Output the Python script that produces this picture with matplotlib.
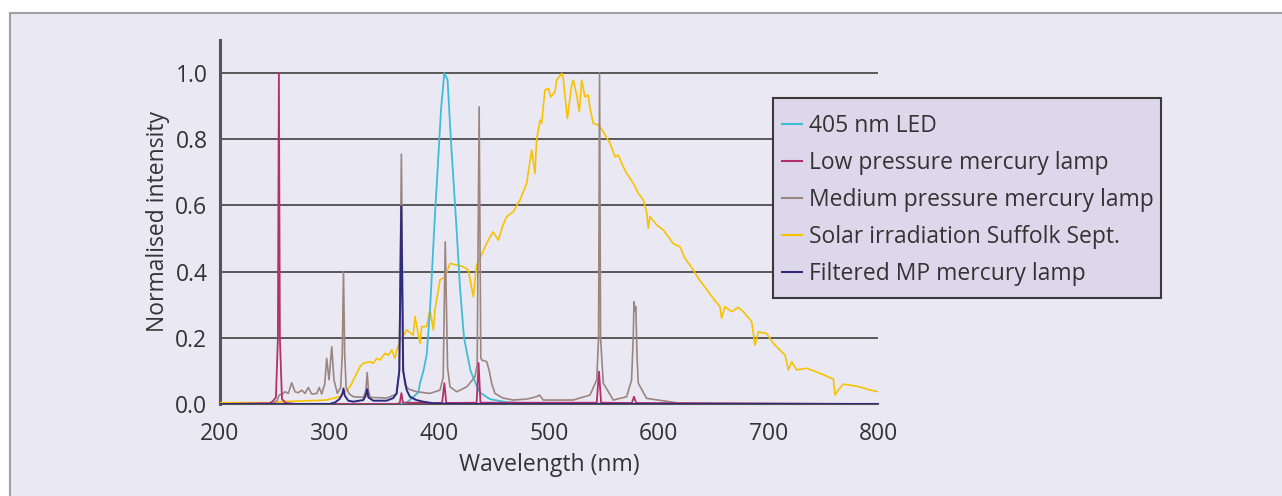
import matplotlib
matplotlib.use("Agg")
import matplotlib.pyplot as plt
from matplotlib.patches import Rectangle

plt.rcParams['font.family'] = ['Open Sans', 'DejaVu Sans']

# spectra (wavelength nm, normalised intensity)
solar_wl = [200, 252, 255, 282, 297, 309, 318.5, 327.7, 330.7, 336.8, 339.8, 342.9, 345.9,
            350.5, 353.5, 356.6, 359.6, 361.1, 364.1, 370.2, 376.2, 377.8, 382.4, 383.9,
            388.4, 391.5, 394.5, 396, 400.6, 405.2, 409.7, 415.8, 421.8, 426.4, 431, 434,
            437, 443, 449, 453.8, 458, 461.4, 467.4, 473.5, 479.6, 484.2, 487.2, 488.7,
            491.8, 493.3, 496.3, 499.4, 501.6, 505.5, 507, 511.6, 513, 516.7, 520.7, 522.1,
            525.2, 527.6, 529.8, 532.8, 535.8, 537.4, 540.4, 545, 549.5, 555.6, 560.2,
            563.2, 567.7, 570.8, 576.9, 581.4, 586, 589, 590.5, 592, 598.2, 604.2, 613.3,
            619.4, 624, 631.6, 636.1, 649.8, 655.9, 657.4, 660.4, 666.5, 672.6, 677.2,
            684.8, 687.8, 690.9, 698.5, 704.6, 715.2, 718.3, 721.3, 725.8, 735, 747.1,
            759.3, 760.8, 763.8, 768.4, 780.5, 793.2, 800]
solar_val = [0.004, 0.004, 0.007, 0.010, 0.012, 0.022, 0.052, 0.113, 0.123, 0.128, 0.123,
             0.138, 0.133, 0.153, 0.148, 0.163, 0.138, 0.163, 0.188, 0.224, 0.208, 0.264,
             0.183, 0.234, 0.234, 0.284, 0.224, 0.284, 0.375, 0.385, 0.425, 0.420, 0.415,
             0.405, 0.324, 0.420, 0.440, 0.485, 0.520, 0.495, 0.540, 0.566, 0.581, 0.616,
             0.667, 0.767, 0.697, 0.798, 0.858, 0.848, 0.949, 0.954, 0.928, 0.944, 0.979,
             0.999, 0.984, 0.863, 0.964, 0.979, 0.934, 0.883, 0.979, 0.928, 0.934, 0.893,
             0.848, 0.843, 0.823, 0.788, 0.747, 0.752, 0.717, 0.697, 0.667, 0.637, 0.616,
             0.580, 0.531, 0.566, 0.541, 0.526, 0.485, 0.475, 0.440, 0.405, 0.380, 0.319,
             0.294, 0.259, 0.294, 0.279, 0.292, 0.279, 0.249, 0.178, 0.218, 0.213, 0.183,
             0.148, 0.103, 0.128, 0.103, 0.108, 0.093, 0.075, 0.027, 0.042, 0.060, 0.054,
             0.042, 0.037]

led_wl = [200, 360, 367, 370.2, 374.8, 380.8, 382.4, 385.5, 388.5, 391.5, 395.5, 400,
          401.5, 404.5, 407.5, 410.5, 415.5, 418.8, 422.5, 428.5, 434, 437, 446, 460, 480, 800]
led_val = [0.0, 0.0, 0.002, 0.004, 0.017, 0.035, 0.063, 0.10, 0.15, 0.284, 0.54, 0.80,
           0.888, 1.0, 0.98, 0.80, 0.54, 0.354, 0.20, 0.10, 0.055, 0.035, 0.015, 0.006,
           0.002, 0.0]

lp_wl = [200, 245, 248, 251, 252.8, 253.7, 254.6, 256.5, 260, 270, 362, 364, 365.4, 366.8,
         402.5, 404.6, 406.3, 434, 435.8, 437.5, 543.5, 545.6, 547.5, 575.5, 577.5, 579.5, 800]
lp_val = [0, 0.002, 0.008, 0.02, 0.2, 1.0, 0.2, 0.015, 0.003, 0, 0, 0.004, 0.033, 0.004,
          0.003, 0.063, 0.003, 0.004, 0.124, 0.004, 0.004, 0.098, 0.004, 0.003, 0.022,
          0.003, 0]

mp_wl = [200, 248, 252, 254, 257, 259.3, 262.3, 265.4, 268.4, 271.4, 274.5, 277.5, 280.5,
         283.6, 288.2, 290.5, 292.7, 295.5, 297.3, 299.4, 301.9, 303.9, 307, 310, 311.5,
         312.6, 313.7, 315, 318, 321.6, 330.7, 333, 334.2, 335.4, 337, 352, 361, 363.5,
         365.4, 367.2, 368.7, 372, 379.3, 391.5, 400.6, 403.5, 405.4, 407.5, 409.7, 415.8,
         425, 432.5, 434.5, 436.3, 437.8, 438.6, 443.2, 445.5, 447.7, 450.7, 458, 467.4,
         480, 488.7, 491.3, 494.8, 522, 537.4, 543.5, 545.2, 546.1, 547, 549.5, 558.6,
         570.8, 575.3, 576.8, 577.5, 578.3, 579.2, 580.2, 581.4, 589, 620, 800]
mp_val = [0.0, 0.002, 0.01, 0.027, 0.03, 0.037, 0.032, 0.064, 0.037, 0.034, 0.042, 0.032,
          0.05, 0.03, 0.032, 0.05, 0.03, 0.06, 0.138, 0.073, 0.173, 0.073, 0.032, 0.05,
          0.15, 0.40, 0.15, 0.05, 0.03, 0.022, 0.02, 0.04, 0.095, 0.04, 0.02, 0.018, 0.03,
          0.10, 0.755, 0.10, 0.057, 0.045, 0.037, 0.032, 0.042, 0.08, 0.49, 0.11, 0.052,
          0.037, 0.052, 0.082, 0.12, 0.898, 0.14, 0.133, 0.128, 0.10, 0.063, 0.032, 0.018,
          0.012, 0.015, 0.022, 0.027, 0.012, 0.012, 0.027, 0.073, 0.2, 1.0, 0.2, 0.063,
          0.012, 0.022, 0.073, 0.2, 0.309, 0.28, 0.294, 0.15, 0.063, 0.017, 0.002, 0.0]

fmp_wl = [200, 300, 305, 309, 311.5, 312.6, 313.8, 317, 321.6, 330.7, 332.8, 334.1, 335.3,
          339.8, 352, 358, 361, 363.5, 365.3, 367, 370.2, 373.2, 379, 385.4, 395, 420, 800]
fmp_val = [0, 0, 0.005, 0.015, 0.03, 0.047, 0.025, 0.01, 0.007, 0.012, 0.025, 0.045, 0.02,
           0.01, 0.01, 0.018, 0.032, 0.10, 0.598, 0.10, 0.042, 0.022, 0.012, 0.007, 0.002,
           0, 0]

labels = ['405 nm LED', 'Low pressure mercury lamp', 'Medium pressure mercury lamp',
          'Solar irradiation Suffolk Sept.', 'Filtered MP mercury lamp']
colors = ['#3fbcd6', '#b3306b', '#9b8580', '#f7c300', '#2d2a7c']

bg = '#eae9f3'
txt = '#333333'

fig = plt.figure(figsize=(12.82, 4.96), dpi=100, facecolor='white')
fig.patches.append(Rectangle((10 / 1282, -0.1), 1.2, 1.1 - 13 / 496,
                             transform=fig.transFigure, facecolor=bg,
                             edgecolor='#a0a0a0', linewidth=1.5, zorder=-10))

ax = fig.add_axes([220 / 1282, 92 / 496, 658 / 1282, 364 / 496])
ax.set_zorder(1)
ax.patch.set_visible(False)

# draw order: solar, LED, MP, LP, filtered MP on top
h_solar, = ax.plot(solar_wl, solar_val, color=colors[3], lw=1.2, zorder=3)
h_led, = ax.plot(led_wl, led_val, color=colors[0], lw=1.3, zorder=4)
h_mp, = ax.plot(mp_wl, mp_val, color=colors[2], lw=1.2, zorder=5)
h_lp, = ax.plot(lp_wl, lp_val, color=colors[1], lw=1.3, zorder=6)
h_fmp, = ax.plot(fmp_wl, fmp_val, color=colors[4], lw=1.4, zorder=7)

ax.set_xlim(200, 800)
ax.set_ylim(0, 1.1)
ax.set_xticks([200, 300, 400, 500, 600, 700, 800])
ax.set_yticks([0.0, 0.2, 0.4, 0.6, 0.8, 1.0])
ax.set_yticklabels(['0.0', '0.2', '0.4', '0.6', '0.8', '1.0'])
for y in [0.2, 0.4, 0.6, 0.8, 1.0]:
    ax.axhline(y, color='#4d4d4d', lw=1.3, zorder=1)

for s in ['top', 'right']:
    ax.spines[s].set_visible(False)
ax.spines['left'].set_color('#555555')
ax.spines['left'].set_linewidth(2.2)
ax.spines['bottom'].set_color('#555555')
ax.spines['bottom'].set_linewidth(1.5)
ax.spines['left'].set_zorder(2)
ax.spines['bottom'].set_zorder(2)

ax.tick_params(axis='both', length=0, labelsize=16.5, labelcolor=txt)
ax.tick_params(axis='x', pad=13)
ax.tick_params(axis='y', pad=9)
ax.set_xlabel('Wavelength (nm)', fontsize=16.5, color=txt, labelpad=5)
ax.set_ylabel('Normalised intensity', fontsize=16.5, color=txt, labelpad=4)

# legend box drawn by hand so the padding matches the reference
ax.add_patch(Rectangle((773 / 1282, 1 - 298 / 496), 388 / 1282, 200 / 496,
                       transform=fig.transFigure, facecolor='#dcd7ea',
                       edgecolor='#3a3a3a', linewidth=1.5, zorder=9, clip_on=False))
leg = ax.legend([h_led, h_lp, h_mp, h_solar, h_fmp], labels,
                loc='upper left', bbox_to_anchor=(773 / 1282, 1 - 105 / 496),
                bbox_transform=fig.transFigure, borderaxespad=0,
                fontsize=16.5, handlelength=0.85, handletextpad=0.3,
                labelspacing=0.57, borderpad=0.4, frameon=False)
leg.set_zorder(10)
for t in leg.get_texts():
    t.set_color(txt)
for l in leg.get_lines():
    l.set_linewidth(1.5)

fig.savefig('out.png', dpi=100, facecolor='white')
